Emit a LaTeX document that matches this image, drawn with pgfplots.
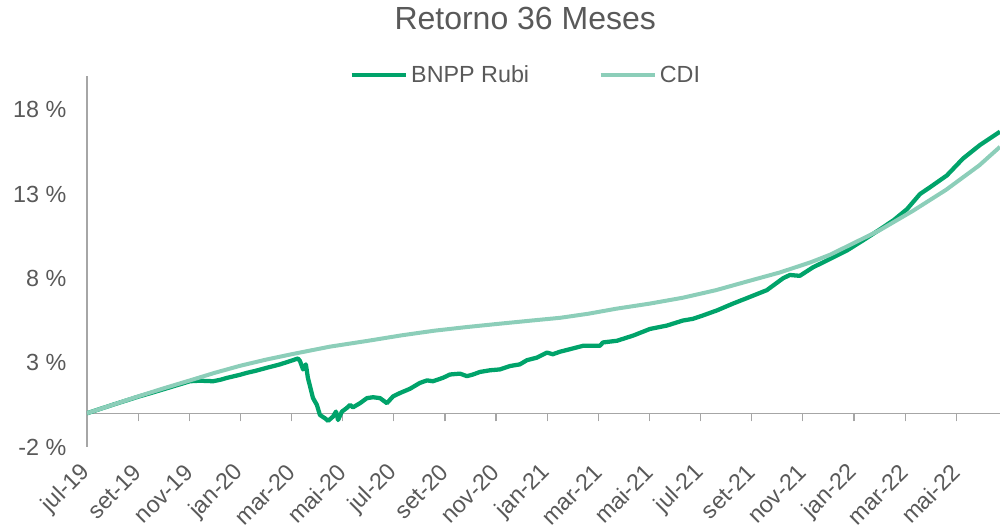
\documentclass[border=0pt]{standalone}
\usepackage{pgfplots}
\pgfplotsset{compat=1.18}
\usepackage{fontspec}
\setmainfont{Liberation Sans}
\definecolor{bnpp}{RGB}{0,163,106}
\definecolor{cdi}{RGB}{140,206,185}
\definecolor{txt}{RGB}{89,89,89}
\definecolor{axisgray}{RGB}{166,166,166}
\pgfplotstableread{
m v
0 0
0.5 0.25
1.0 0.5
1.5 0.74
2.0 0.98
2.5 1.2
3.05 1.45
3.64 1.72
4.03 1.9
4.42 1.93
4.93 1.9
5.2 1.98
5.48 2.1
5.98 2.28
6.26 2.4
6.6 2.52
7.04 2.7
7.3 2.8
7.55 2.9
8.06 3.15
8.25 3.25
8.33 3.1
8.45 2.6
8.56 2.9
8.64 2.1
8.84 0.9
8.99 0.5
9.11 -0.1
9.31 -0.3
9.43 -0.45
9.62 -0.2
9.74 0.1
9.82 -0.4
9.97 0.1
10.15 0.3
10.29 0.5
10.40 0.35
10.68 0.6
10.95 0.9
11.19 0.95
11.46 0.9
11.73 0.6
11.97 1.0
12.24 1.2
12.63 1.45
13.02 1.8
13.30 1.95
13.53 1.9
13.92 2.1
14.20 2.3
14.59 2.35
14.86 2.2
15.10 2.3
15.37 2.45
15.76 2.55
16.15 2.6
16.54 2.8
16.93 2.9
17.21 3.15
17.60 3.3
17.99 3.6
18.22 3.5
18.50 3.65
18.89 3.8
19.40 4.0
20.06 4.0
20.18 4.2
20.73 4.3
21.35 4.6
22.02 5.0
22.68 5.2
23.31 5.5
23.70 5.6
24.09 5.8
24.64 6.1
25.26 6.5
25.93 6.9
26.59 7.3
27.22 8.0
27.49 8.2
27.88 8.15
28.39 8.65
29.06 9.15
29.72 9.65
30.35 10.25
31.01 10.9
31.55 11.45
32.07 12.1
32.58 13.0
32.97 13.4
33.30 13.75
33.63 14.1
34.26 15.1
34.92 15.9
35.71 16.7
}\bnpptab
\pgfplotstableread{
m v
0 0
1.0 0.5
2.0 1.0
3.0 1.48
4.03 1.95
5.0 2.4
6.0 2.82
7.0 3.18
8.0 3.5
8.33 3.6
9.5 3.95
11.0 4.3
12.3 4.62
13.6 4.9
14.9 5.12
16.2 5.32
17.4 5.5
18.5 5.66
19.6 5.9
20.7 6.2
22.0 6.5
23.3 6.85
24.6 7.3
25.9 7.85
27.1 8.35
28.3 8.95
29.06 9.4
30.0 10.1
31.0 10.85
32.3 12.0
33.6 13.25
34.9 14.7
35.71 15.8
}\cditab
\begin{document}
\begin{tikzpicture}
\path[use as bounding box] (-65.25pt,-60.75pt) rectangle (684.75pt,335.25pt);
\begin{axis}[
  at={(0,0)}, anchor=south west, scale only axis,
  width=684.75pt, height=278.25pt,
  xmin=0, xmax=35.71, ymin=-2, ymax=20,
  axis x line=middle, axis y line=left,
  hide obscured x ticks=false,
  axis line style={draw=axisgray, line width=0.9pt, -},
  tick align=outside,
  major tick length=6pt,
  xtick={0,2,...,34},
  xticklabels={jul-19,set-19,nov-19,jan-20,mar-20,mai-20,jul-20,set-20,nov-20,jan-21,mar-21,mai-21,jul-21,set-21,nov-21,jan-22,mar-22,mai-22},
  x tick style={draw=axisgray, line width=0.9pt},
  xticklabel style={yshift=-33pt, xshift=2pt, rotate=45, anchor=east, font=\fontsize{17.5}{20}\selectfont, text=txt},
  ytick={-2,3,8,13,18},
  yticklabels={-2 \%,3 \%,8 \%,13 \%,18 \%},
  y tick style={draw=none},
  yticklabel style={font=\fontsize{17.5}{20}\selectfont, text=txt, xshift=-6pt},
  title={Retorno 36 Meses},
  title style={at={(axis description cs:0.48,1.105)}, anchor=base, font=\fontsize{24}{28}\selectfont, text=txt},
  legend style={at={(axis description cs:0.481,1.003)}, anchor=center, draw=none, fill=none,
     font=\fontsize{17.5}{20}\selectfont, text=txt, nodes={inner xsep=2pt},
     /tikz/column 2/.style={column sep=50pt}},
  legend columns=2,
  legend image code/.code={\draw[#1] (0pt,0pt) -- (41pt,0pt);},
  clip=true,
]
\addplot[bnpp, line width=3.2pt, line join=round] table[x=m, y=v] {\bnpptab};
\addplot[cdi, line width=3pt, line join=round] table[x=m, y=v] {\cditab};
\legend{BNPP Rubi, CDI}
\end{axis}
\end{tikzpicture}
\end{document}
